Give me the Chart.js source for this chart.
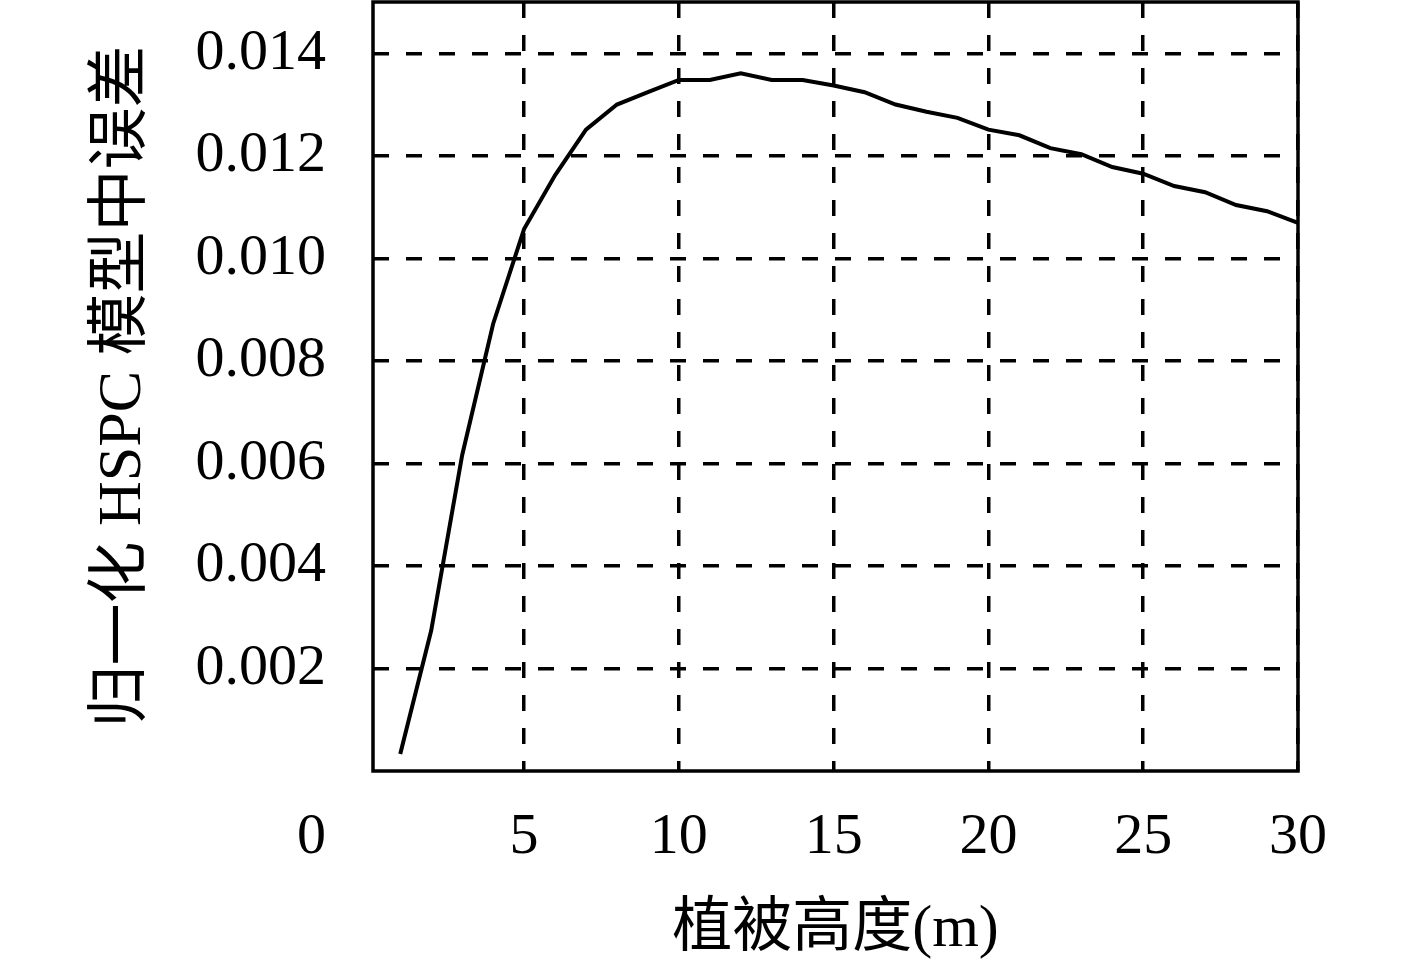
<!DOCTYPE html>
<html>
<head>
<meta charset="utf-8">
<script src="https://cdn.jsdelivr.net/npm/chart.js@4/dist/chart.umd.min.js"></script>
<style>
  html, body { margin: 0; padding: 0; background: #fff; }
  #wrap { width: 1417px; height: 971px; }
</style>
</head>
<body>
<div id="wrap"><canvas id="c" width="1417" height="971"></canvas></div>
<script>
// ---- data ----
const heights = [1, 2, 3, 4, 5, 6, 7, 8, 9, 10, 11, 12, 13, 14, 15, 16, 17, 18, 19, 20, 21, 22, 23, 24, 25, 26, 27, 28, 29, 30];
const errors = [0.00033, 0.00274, 0.00616, 0.00872, 0.01057, 0.01162, 0.01251, 0.01300, 0.01324, 0.01348,
                0.01348, 0.01361, 0.01348, 0.01348, 0.01337, 0.01324, 0.01300, 0.01286, 0.01274, 0.01251,
                0.01240, 0.01215, 0.01203, 0.01178, 0.01165, 0.01141, 0.01129, 0.01104, 0.01092, 0.01069];
const xTicks = [5, 10, 15, 20, 25, 30];
const yTicks = [0.002, 0.004, 0.006, 0.008, 0.010, 0.012, 0.014];
const xTitle = '植被高度(m)';
const yTitle = '归一化 HSPC 模型中误差';
const originLabel = '0';

const serif = "'Liberation Serif', 'Noto Sans CJK SC', serif";
const tickFont = { family: serif, size: 58 };
const xTitleFont = { family: serif, size: 60 };
const yTitleFont = { family: serif, size: 62 };

const framePlugin = {
  id: 'frame',
  afterDatasetsDraw(chart) {
    const { ctx, chartArea: a } = chart;
    ctx.save();
    ctx.strokeStyle = '#000';
    ctx.lineWidth = 3.5;
    ctx.strokeRect(a.left, a.top, a.right - a.left, a.bottom - a.top);
    ctx.restore();
  },
  afterDraw(chart) {
    const { ctx, chartArea: a } = chart;
    ctx.save();
    ctx.fillStyle = '#000';
    ctx.font = tickFont.size + 'px ' + serif;
    ctx.textAlign = 'right';
    ctx.textBaseline = 'middle';
    ctx.fillText(originLabel, a.left - 47, a.bottom + 67);
    ctx.restore();
  }
};

new Chart(document.getElementById('c'), {
  type: 'line',
  data: {
    datasets: [{
      data: heights.map((h, i) => ({ x: h, y: errors[i] })),
      borderColor: '#000',
      borderWidth: 4,
      pointRadius: 0,
      tension: 0,
      fill: false
    }]
  },
  options: {
    responsive: false,
    animation: false,
    devicePixelRatio: 1,
    layout: { padding: { left: 0, right: 119, top: 2, bottom: 0 } },
    plugins: { legend: { display: false }, tooltip: { enabled: false } },
    scales: {
      x: {
        type: 'linear',
        min: 0.12,
        max: 30,
        afterBuildTicks(s) { s.ticks = xTicks.map(v => ({ value: v })); },
        afterFit(s) { s.height = 200; s.paddingLeft = 0; s.paddingRight = 0; },
        ticks: { color: '#000', font: tickFont, padding: 32, maxRotation: 0, autoSkip: false,
                 callback: v => String(v) },
        grid: { color: '#000', lineWidth: 3.5, drawTicks: false },
        border: { display: false, dash: [16, 17] },
        title: { display: true, text: xTitle, color: '#000', font: xTitleFont, padding: { top: 0, bottom: 5 } }
      },
      y: {
        type: 'linear',
        min: 0,
        max: 0.015,
        afterBuildTicks(s) { s.ticks = yTicks.map(v => ({ value: v })); },
        afterFit(s) { s.width = 373; s.paddingTop = 0; s.paddingBottom = 0; },
        ticks: { color: '#000', font: tickFont, padding: 47, autoSkip: false,
                 callback: v => Number(v).toFixed(3) },
        grid: { color: '#000', lineWidth: 3.5, drawTicks: false },
        border: { display: false, dash: [16, 17] },
        title: { display: true, text: yTitle, color: '#000', font: yTitleFont, padding: { top: 87, bottom: 0 } }
      }
    }
  },
  plugins: [framePlugin]
});
</script>
</body>
</html>
